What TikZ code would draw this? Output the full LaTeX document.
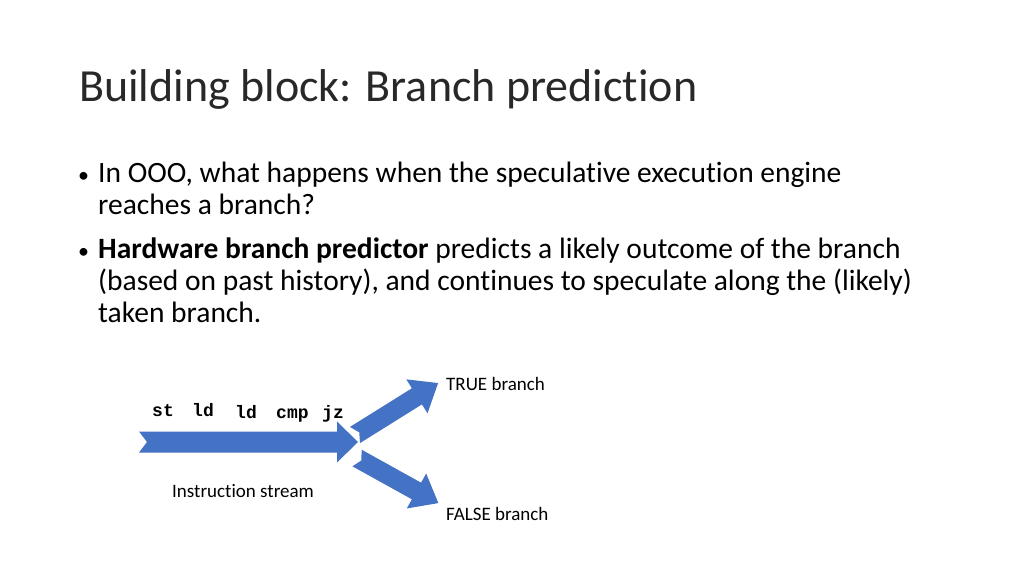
\documentclass[tikz,border=0pt]{standalone}
\usepackage{fontspec}
\setmainfont[RawFeature={-liga;-clig}]{Carlito}
\newfontfamily\codefont{Liberation Mono}
\definecolor{arrowblue}{RGB}{68,114,196}
\definecolor{titlegray}{RGB}{40,40,40}
% block arrow: (tail), angle, length, body half width, head half width, head length, notch
\newcommand\blockarrow[7]{%
  \begin{scope}[shift={(#1)},rotate=#2]
    \fill[arrowblue] (0,#4) -- ({#3-#6},#4) -- ({#3-#6},#5) -- (#3,0)
      -- ({#3-#6},-#5) -- ({#3-#6},-#4) -- (0,-#4) -- (#7,0) -- cycle;
  \end{scope}}
\begin{document}
\begin{tikzpicture}[x=1pt,y=1pt,
    bodytext/.style={anchor=base west,inner sep=0pt,font=\fontsize{29.5}{32}\selectfont},
    smalllabel/.style={anchor=west,inner sep=0pt,font=\fontsize{19}{20}\selectfont},
    codelabel/.style={anchor=base west,inner sep=0pt,font=\codefont\bfseries\fontsize{18}{18}\selectfont}]
  \useasboundingbox (0,0) rectangle (1024,-576);
  % title
  \node[anchor=base west,inner sep=0pt,text=titlegray,font=\fontsize{46}{48}\selectfont]
    (title) at (79,-101) {Building block: Branch prediction};
  % bullets
  \node[bodytext,font=\fontsize{22}{32}\selectfont] (dot1) at (78,-182) {•};
  \node[bodytext] (line1) at (98,-182) {In OOO, what happens when the speculative execution engine};
  \node[bodytext] (line2) at (98,-214) {reaches a branch?};
  \node[bodytext,font=\fontsize{22}{32}\selectfont] (dot2) at (78,-258) {•};
  \node[bodytext] (line3) at (98,-258) {\textbf{Hardware branch predictor} predicts a likely outcome of the branch};
  \node[bodytext] (line4) at (98,-290) {(based on past history), and continues to speculate along the (likely)};
  \node[bodytext] (line5) at (98,-322) {taken branch.};
  % arrows
  \blockarrow{139,-442}{0}{219}{10.5}{20.5}{21}{8}
  \blockarrow{355,-435}{32}{98}{9.5}{20}{25}{5}
  \blockarrow{357,-458}{-29}{93}{9.5}{20}{25}{5}
  % code
  \node[codelabel] (st) at (152,-416) {st};
  \node[codelabel] (ld1) at (192,-416) {ld};
  \node[codelabel] (ld2) at (235,-418) {ld};
  \node[codelabel] (cmp) at (276,-418) {cmp};
  \node[codelabel] (jz) at (322,-418) {jz};
  % labels
  \node[smalllabel] (true) at (446,-384) {TRUE branch};
  \node[smalllabel] (false) at (446,-514) {FALSE branch};
  \node[smalllabel] (stream) at (172,-491) {Instruction stream};
\end{tikzpicture}
\end{document}
